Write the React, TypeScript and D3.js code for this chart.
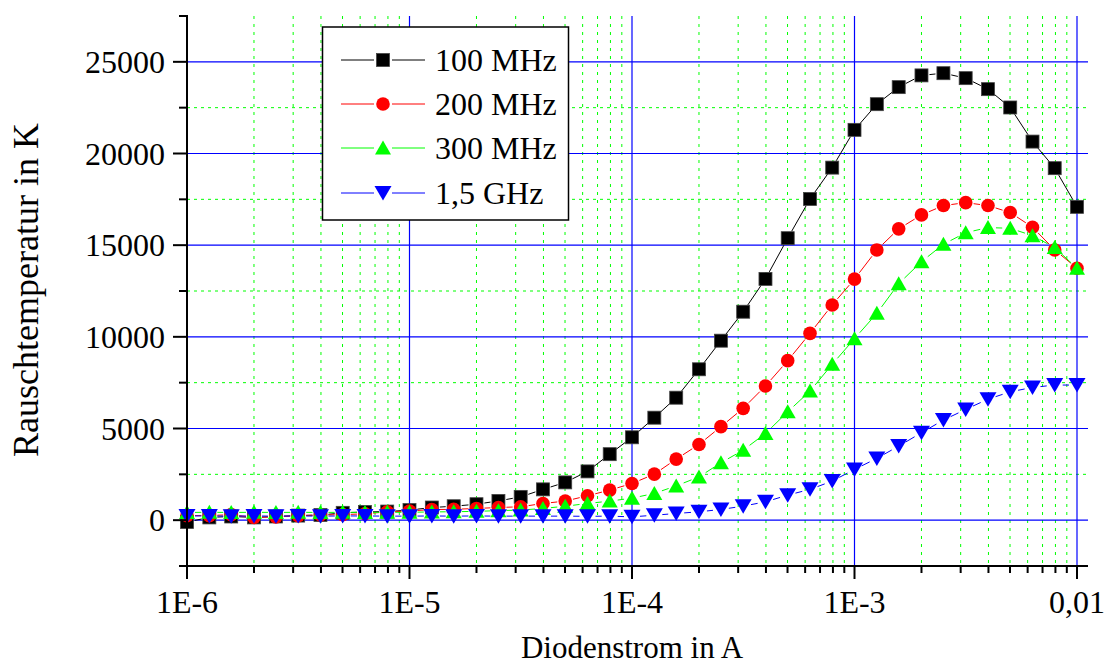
import React from "react";
import * as d3 from "d3";

// Diode current in A (10 points per decade)
const current = [
  1.0e-6, 1.26e-6, 1.58e-6, 2.0e-6, 2.51e-6, 3.16e-6, 3.98e-6, 5.01e-6, 6.31e-6, 7.94e-6,
  1.0e-5, 1.26e-5, 1.58e-5, 2.0e-5, 2.51e-5, 3.16e-5, 3.98e-5, 5.01e-5, 6.31e-5, 7.94e-5,
  1.0e-4, 1.26e-4, 1.58e-4, 2.0e-4, 2.51e-4, 3.16e-4, 3.98e-4, 5.01e-4, 6.31e-4, 7.94e-4,
  1.0e-3, 1.26e-3, 1.58e-3, 2.0e-3, 2.51e-3, 3.16e-3, 3.98e-3, 5.01e-3, 6.31e-3, 7.94e-3,
  1.0e-2,
];

// Noise temperature in K per measurement frequency
const t100MHz = [
  -100, 150, 200, 150, 200, 250, 280, 400, 450, 470,
  550, 690, 760, 870, 1050, 1270, 1680, 2060, 2660, 3600,
  4520, 5590, 6680, 8230, 9790, 11370, 13160, 15380, 17520, 19230,
  21290, 22690, 23620, 24260, 24380, 24110, 23510, 22510, 20650, 19200,
  17090,
];
const t200MHz = [
  250, 250, 300, 150, 180, 250, 280, 300, 350, 450,
  500, 580, 590, 640, 690, 730, 910, 1040, 1330, 1640,
  2000, 2510, 3330, 4130, 5100, 6100, 7320, 8700, 10190, 11740,
  13150, 14740, 15890, 16650, 17160, 17320, 17160, 16780, 15980, 14740,
  13740,
];
const t300MHz = [
  420, 430, 420, 430, 420, 430, 420, 430, 420, 430,
  430, 450, 460, 480, 520, 550, 640, 760, 910, 1040,
  1200, 1460, 1870, 2360, 3130, 3820, 4730, 5910, 7040, 8500,
  9900, 11280, 12900, 14100, 15050, 15680, 15960, 15920, 15520, 14870,
  13740,
];
const t1500MHz = [
  230, 230, 220, 230, 220, 230, 220, 230, 230, 220,
  220, 230, 220, 230, 220, 220, 220, 220, 210, 220,
  180, 270, 365, 455, 585, 765, 1000, 1365, 1680, 2130,
  2770, 3370, 4040, 4770, 5460, 6040, 6600, 7000, 7240, 7370,
  7370,
];

const seriesNames = ["100 MHz", "200 MHz", "300 MHz", "1,5 GHz"];
const seriesValues = [t100MHz, t200MHz, t300MHz, t1500MHz];
const seriesColors = ["#000000", "#ff0000", "#00ff00", "#0000ff"];
const seriesMarkers = ["square", "circle", "up", "down"];

const yMajorTicks = [0, 5000, 10000, 15000, 20000, 25000];
const yMinorTicks = [-2500, 2500, 7500, 12500, 17500, 22500, 27500];
const xMajorTicks = [1e-6, 1e-5, 1e-4, 1e-3, 1e-2];
const xTickLabels = ["1E-6", "1E-5", "1E-4", "1E-3", "0,01"];

const FONT = "'Liberation Serif', 'Times New Roman', serif";

const W = 1106;
const H = 664;
const left = 187;
const right = 1077;
const axisEnd = 1088;
const top = 16;
const bottom = 566;

const x = d3.scaleLog().domain([1e-6, 1e-2]).range([left, right]);
const y = d3.scaleLinear().domain([-2500, 27500]).range([bottom, top]);

const xMinorTicks: number[] = [];
for (let d = -6; d < -2; d++) {
  for (let m = 2; m <= 9; m++) xMinorTicks.push(m * Math.pow(10, d));
}

function Marker({ kind, cx, cy, color }: { kind: string; cx: number; cy: number; color: string }) {
  if (kind === "square") {
    return <rect x={cx - 6.5} y={cy - 6.5} width={13} height={13} fill={color} stroke="#444" strokeWidth={0.8} />;
  }
  if (kind === "circle") {
    return <circle cx={cx} cy={cy} r={6.8} fill={color} />;
  }
  if (kind === "up") {
    return <polygon points={`${cx},${cy - 7.5} ${cx + 8},${cy + 6.5} ${cx - 8},${cy + 6.5}`} fill={color} />;
  }
  return <polygon points={`${cx - 8.5},${cy - 7} ${cx + 8.5},${cy - 7} ${cx},${cy + 7.5}`} fill={color} />;
}

// Connecting line segments that stop short of each marker
function gappedSegments(pts: [number, number][], gap: number) {
  const segs: [number, number, number, number][] = [];
  for (let i = 0; i < pts.length - 1; i++) {
    const [x1, y1] = pts[i];
    const [x2, y2] = pts[i + 1];
    const dx = x2 - x1;
    const dy = y2 - y1;
    const len = Math.hypot(dx, dy);
    if (len <= 2 * gap) continue;
    const ux = dx / len;
    const uy = dy / len;
    segs.push([x1 + ux * gap, y1 + uy * gap, x2 - ux * gap, y2 - uy * gap]);
  }
  return segs;
}

export default function App() {
  const legendRows = [60, 104, 148, 193];
  return (
    <svg
      width={W}
      height={H}
      style={{ position: "absolute", left: 0, top: 0, background: "#fff" }}
      fontFamily={FONT}
    >
      {/* minor grid */}
      {yMinorTicks
        .filter((v) => v > -2500 && v < 27500)
        .map((v) => (
          <line key={"hg" + v} x1={left} x2={axisEnd} y1={y(v)} y2={y(v)} stroke="#00ff00" strokeWidth={1} strokeDasharray="3,4" />
        ))}
      {xMinorTicks.map((v) => (
        <line key={"vg" + v} x1={x(v)} x2={x(v)} y1={top} y2={bottom} stroke="#00ff00" strokeWidth={1} strokeDasharray="3,5" />
      ))}
      {/* major grid */}
      {yMajorTicks.map((v) => (
        <line key={"hG" + v} x1={left} x2={axisEnd} y1={y(v)} y2={y(v)} stroke="#0000ff" strokeWidth={1.2} />
      ))}
      {xMajorTicks.slice(1).map((v) => (
        <line key={"vG" + v} x1={x(v)} x2={x(v)} y1={top} y2={bottom} stroke="#0000ff" strokeWidth={1.2} />
      ))}

      {/* series */}
      {seriesValues.map((vals, si) => {
        const pts: [number, number][] = vals.map((v, i) => [x(current[i]), y(v)]);
        const segs = gappedSegments(pts, 8);
        return (
          <g key={"s" + si}>
            {segs.map((s, i) => (
              <line key={i} x1={s[0]} y1={s[1]} x2={s[2]} y2={s[3]} stroke={seriesColors[si]} strokeWidth={1} />
            ))}
            {pts.map((p, i) => (
              <Marker key={"m" + i} kind={seriesMarkers[si]} cx={p[0]} cy={p[1]} color={seriesColors[si]} />
            ))}
          </g>
        );
      })}

      {/* axes */}
      <line x1={left} x2={left} y1={top - 1} y2={bottom + 1} stroke="#000" strokeWidth={2} />
      <line x1={left - 1} x2={axisEnd} y1={bottom} y2={bottom} stroke="#000" strokeWidth={2} />
      {yMajorTicks.map((v) => (
        <line key={"yt" + v} x1={left - 14} x2={left} y1={y(v)} y2={y(v)} stroke="#000" strokeWidth={2} />
      ))}
      {yMinorTicks.map((v) => (
        <line key={"ym" + v} x1={left - 8} x2={left} y1={y(v)} y2={y(v)} stroke="#000" strokeWidth={2} />
      ))}
      {xMajorTicks.map((v) => (
        <line key={"xt" + v} x1={x(v)} x2={x(v)} y1={bottom} y2={bottom + 13} stroke="#000" strokeWidth={2} />
      ))}
      {xMinorTicks.map((v) => (
        <line key={"xm" + v} x1={x(v)} x2={x(v)} y1={bottom} y2={bottom + 7} stroke="#000" strokeWidth={2} />
      ))}

      {/* tick labels */}
      {yMajorTicks.map((v) => (
        <text key={"yl" + v} x={165} y={y(v) + 11} textAnchor="end" fontSize={32} fill="#000">
          {String(v)}
        </text>
      ))}
      {xMajorTicks.map((v, i) => (
        <text key={"xl" + v} x={x(v)} y={613} textAnchor="middle" fontSize={32} fill="#000">
          {xTickLabels[i]}
        </text>
      ))}

      {/* axis titles */}
      <text x={632} y={658} textAnchor="middle" fontSize={31} fill="#000">
        Diodenstrom in A
      </text>
      <text transform="translate(38,290) rotate(-90)" textAnchor="middle" fontSize={36} fill="#000">
        Rauschtemperatur in K
      </text>

      {/* legend */}
      <rect x={322.5} y={27} width={246} height={193} fill="#fff" stroke="#000" strokeWidth={1.5} />
      {seriesNames.map((name, i) => {
        const cy = legendRows[i];
        return (
          <g key={"lg" + i}>
            <line x1={341} x2={374} y1={cy} y2={cy} stroke={seriesColors[i]} strokeWidth={1} />
            <line x1={392} x2={425} y1={cy} y2={cy} stroke={seriesColors[i]} strokeWidth={1} />
            <Marker kind={seriesMarkers[i]} cx={383} cy={cy} color={seriesColors[i]} />
            <text x={435} y={cy + 11} fontSize={32} fill="#000">
              {name}
            </text>
          </g>
        );
      })}
    </svg>
  );
}
